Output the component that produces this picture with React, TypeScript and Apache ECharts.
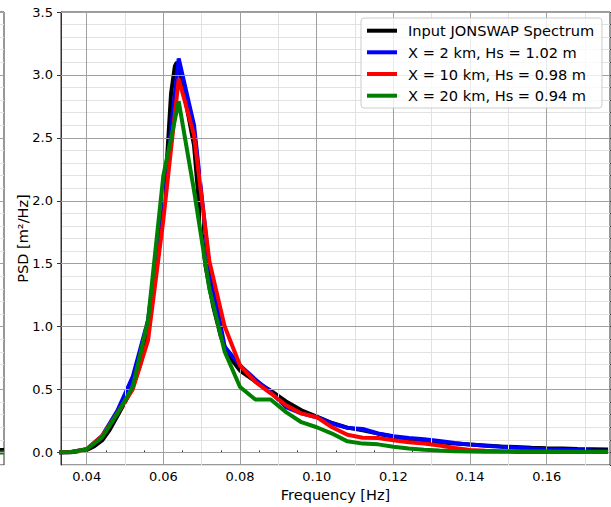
import React, { useEffect, useRef } from "react";
import * as echarts from "echarts";

const FONT = "DejaVu Sans";

// Frequencies of the simulated spectra (Hz)
const FREQ = [
  0.032, 0.036, 0.040, 0.044, 0.048, 0.052, 0.056, 0.060, 0.064, 0.068, 0.072, 0.076,
  0.080, 0.084, 0.088, 0.092, 0.096, 0.100, 0.104, 0.108, 0.112, 0.116, 0.120, 0.124,
  0.128, 0.132, 0.136, 0.140, 0.144, 0.148, 0.152, 0.156, 0.160, 0.164, 0.168, 0.172, 0.176,
];
const PSD_X2 = [
  0, 0.003, 0.025, 0.13, 0.33, 0.6, 1.05, 2.0, 3.13, 2.6, 1.47, 0.84,
  0.69, 0.58, 0.48, 0.36, 0.31, 0.28, 0.23, 0.195, 0.186, 0.15, 0.128, 0.114,
  0.105, 0.09, 0.075, 0.062, 0.052, 0.045, 0.038, 0.031, 0.026, 0.022, 0.019, 0.016, 0.014,
];
const PSD_X10 = [
  0, 0.003, 0.025, 0.13, 0.31, 0.5, 0.89, 1.85, 2.97, 2.52, 1.52, 1.0,
  0.69, 0.56, 0.47, 0.375, 0.31, 0.28, 0.2, 0.14, 0.117, 0.114, 0.096, 0.08,
  0.07, 0.055, 0.035, 0.02, 0.013, 0.01, 0.009, 0.008, 0.007, 0.006, 0.005, 0.004, 0.004,
];
const PSD_X20 = [
  0, 0.003, 0.025, 0.12, 0.31, 0.52, 1.05, 2.2, 2.79, 2.08, 1.3, 0.8,
  0.52, 0.42, 0.42, 0.32, 0.24, 0.2, 0.15, 0.088, 0.07, 0.064, 0.045, 0.032,
  0.022, 0.015, 0.01, 0.008, 0.006, 0.005, 0.004, 0.004, 0.003, 0.003, 0.003, 0.003, 0.003,
];

// Input JONSWAP spectrum (finer frequency resolution)
const JONSWAP_FREQ = [
  0.032, 0.036, 0.040, 0.042, 0.044, 0.046, 0.048, 0.050, 0.052, 0.054, 0.056, 0.058,
  0.060, 0.061, 0.062, 0.063, 0.0635, 0.064, 0.065, 0.066, 0.067, 0.068, 0.069, 0.070,
  0.071, 0.072, 0.073, 0.074, 0.075, 0.076, 0.078, 0.080, 0.084, 0.088, 0.092, 0.096,
  0.100, 0.104, 0.108, 0.112, 0.116, 0.120, 0.124, 0.128, 0.132, 0.136, 0.140, 0.144,
  0.148, 0.152, 0.156, 0.160, 0.164, 0.168, 0.172, 0.176,
];
const JONSWAP_PSD = [
  0, 0.002, 0.02, 0.05, 0.095, 0.18, 0.29, 0.4, 0.52, 0.7, 0.97, 1.5,
  2.0, 2.35, 2.85, 3.07, 3.1, 3.08, 2.92, 2.76, 2.6, 2.44, 2.08, 1.74,
  1.48, 1.32, 1.16, 1.04, 0.92, 0.84, 0.73, 0.65, 0.565, 0.49, 0.405, 0.335,
  0.285, 0.234, 0.197, 0.175, 0.149, 0.125, 0.105, 0.09, 0.08, 0.07, 0.062, 0.055,
  0.048, 0.043, 0.038, 0.034, 0.031, 0.028, 0.026, 0.024,
];

// Neighbouring (cropped) panel at the far left
const STRAY_X = [0, 1];
const STRAY_BLACK = [0.02, 0.02];
const STRAY_GREEN = [0.0, 0.0];

const SERIES_NAMES = [
  "Input JONSWAP Spectrum",
  "X = 2 km, Hs = 1.02 m",
  "X = 10 km, Hs = 0.98 m",
  "X = 20 km, Hs = 0.94 m",
];
const COLORS = ["#000000", "#0000ff", "#ff0000", "#008000"];

const X_MIN = 0.0333;
const X_MAX = 0.1765;
const Y_MIN = -0.1;
const Y_MAX = 3.5;
const X_MAJOR = [0.04, 0.06, 0.08, 0.1, 0.12, 0.14, 0.16];
const X_MINOR = [
  0.035, 0.045, 0.05, 0.055, 0.065, 0.07, 0.075, 0.085, 0.09, 0.095, 0.105, 0.11, 0.115,
  0.125, 0.13, 0.135, 0.145, 0.15, 0.155, 0.165, 0.17, 0.175,
];
const Y_MAJOR = [0, 0.5, 1.0, 1.5, 2.0, 2.5, 3.0, 3.5];

const zip = (xs: number[], ys: number[]) => xs.map((x, i) => [x, ys[i]]);

export default function App() {
  const ref = useRef<HTMLDivElement>(null);
  useEffect(() => {
    if (!ref.current) return;
    const chart = echarts.init(ref.current, null, { renderer: "svg" });
    const MAJOR = "#a0a0a0";
    const MINOR = "#e2e2e2";
    const gridMarks = {
      silent: true,
      symbol: ["none", "none"],
      label: { show: false },
      animation: false,
      lineStyle: { type: "solid", width: 1 },
      data: [
        ...X_MINOR.map((v) => ({ xAxis: v, lineStyle: { color: MINOR, type: "solid", width: 1 } })),
        ...X_MAJOR.map((v) => ({ xAxis: v, lineStyle: { color: MAJOR, type: "solid", width: 1 } })),
        ...Y_MAJOR.map((v) => ({ yAxis: v, lineStyle: { color: MAJOR, type: "solid", width: 1 } })),
      ],
    };
    const strayMarks = {
      silent: true,
      symbol: ["none", "none"],
      label: { show: false },
      animation: false,
      data: Y_MAJOR.map((v) => ({ yAxis: v, lineStyle: { color: MAJOR, type: "solid", width: 1 } })),
    };
    const legendRows = [30.7, 52.3, 74, 95.7];
    const option: any = {
      animation: false,
      backgroundColor: "#ffffff",
      textStyle: { fontFamily: FONT },
      grid: [
        {
          left: -300, width: 304, top: 12, bottom: 42, outerBoundsMode: "none", containLabel: false,
          show: true, borderColor: "#333333", borderWidth: 1, backgroundColor: "#ffffff",
        },
        {
          left: 61, right: 1, top: 12, bottom: 42, outerBoundsMode: "none", containLabel: false,
          show: true, borderColor: "#333333", borderWidth: 1, backgroundColor: "#ffffff",
        },
      ],
      xAxis: [
        {
          type: "value", gridIndex: 1, min: X_MIN, max: X_MAX,
          axisLine: { show: true, lineStyle: { color: "#333333" } },
          axisTick: { show: true, customValues: X_MAJOR, length: 4, lineStyle: { color: "#333333" } },
          axisLabel: {
            show: true, customValues: X_MAJOR, margin: 5,
            formatter: (v: number) => v.toFixed(2),
            fontSize: 13, color: "#000000", fontFamily: FONT,
          },
          splitLine: { show: false },
          name: "Frequency [Hz]", nameLocation: "middle", nameGap: 22,
          nameTextStyle: { fontSize: 14.5, color: "#000000", fontFamily: FONT },
        },
        {
          type: "value", gridIndex: 1, min: X_MIN, max: X_MAX,
          axisLine: { show: false },
          axisTick: { show: true, customValues: X_MINOR, length: 2, lineStyle: { color: "#333333" } },
          axisLabel: { show: false },
          splitLine: { show: false },
        },
        {
          type: "value", gridIndex: 0, min: 0, max: 1, show: false,
        },
      ],
      yAxis: [
        {
          type: "value", gridIndex: 1, min: Y_MIN, max: Y_MAX,
          axisLine: { show: true, lineStyle: { color: "#333333" } },
          axisTick: { show: true, customValues: Y_MAJOR, length: 4, lineStyle: { color: "#333333" } },
          axisLabel: {
            show: true, customValues: Y_MAJOR, margin: 8,
            formatter: (v: number) => v.toFixed(1),
            fontSize: 13, color: "#000000", fontFamily: FONT,
          },
          splitLine: { show: false },
          name: "PSD [m²/Hz]", nameLocation: "middle", nameGap: 31, nameRotate: 90,
          nameMoveOverlap: false,
          nameTextStyle: { fontSize: 14.5, color: "#000000", fontFamily: FONT },
        },
        {
          type: "value", gridIndex: 1, min: Y_MIN, max: Y_MAX, interval: 0.1,
          axisLine: { show: false },
          axisTick: { show: true, length: 2, lineStyle: { color: "#333333" } },
          axisLabel: { show: false },
          splitLine: { show: true, lineStyle: { color: MINOR, width: 1 } },
        },
        {
          type: "value", gridIndex: 0, min: Y_MIN, max: Y_MAX, interval: 0.1,
          axisLine: { show: false }, axisTick: { show: false }, axisLabel: { show: false },
          splitLine: { show: true, lineStyle: { color: MINOR, width: 1 } },
        },
      ],
      series: [
        {
          type: "line", xAxisIndex: 0, yAxisIndex: 0, data: [], z: 1,
          symbol: "none", markLine: gridMarks,
        },
        {
          type: "line", xAxisIndex: 2, yAxisIndex: 2, data: [], z: 1,
          symbol: "none", markLine: strayMarks,
        },
        {
          type: "line", xAxisIndex: 2, yAxisIndex: 2, z: 3, symbol: "none",
          data: zip(STRAY_X, STRAY_BLACK), lineStyle: { color: COLORS[0], width: 4 },
        },
        {
          type: "line", xAxisIndex: 2, yAxisIndex: 2, z: 4, symbol: "none",
          data: zip(STRAY_X, STRAY_GREEN), lineStyle: { color: COLORS[3], width: 4 },
        },
        {
          name: SERIES_NAMES[0], type: "line", xAxisIndex: 0, yAxisIndex: 0, z: 3,
          symbol: "none", clip: true, data: zip(JONSWAP_FREQ, JONSWAP_PSD),
          lineStyle: { color: COLORS[0], width: 4 },
        },
        {
          name: SERIES_NAMES[1], type: "line", xAxisIndex: 0, yAxisIndex: 0, z: 4,
          symbol: "none", clip: true, data: zip(FREQ, PSD_X2),
          lineStyle: { color: COLORS[1], width: 4 },
        },
        {
          name: SERIES_NAMES[2], type: "line", xAxisIndex: 0, yAxisIndex: 0, z: 5,
          symbol: "none", clip: true, data: zip(FREQ, PSD_X10),
          lineStyle: { color: COLORS[2], width: 4 },
        },
        {
          name: SERIES_NAMES[3], type: "line", xAxisIndex: 0, yAxisIndex: 0, z: 6,
          symbol: "none", clip: true, data: zip(FREQ, PSD_X20),
          lineStyle: { color: COLORS[3], width: 4 },
        },
      ],
      graphic: [
        {
          type: "rect", z: 100,
          shape: { x: 361, y: 18, width: 241, height: 90, r: 3 },
          style: { fill: "rgba(255,255,255,0.8)", stroke: "#cccccc", lineWidth: 1 },
        },
        ...SERIES_NAMES.flatMap((name, i) => [
          {
            type: "line", z: 101,
            shape: { x1: 367, y1: legendRows[i], x2: 397, y2: legendRows[i] },
            style: { stroke: COLORS[i], lineWidth: 4 },
          },
          {
            type: "text", z: 101, x: 408, y: legendRows[i],
            style: {
              text: name, fill: "#000000", fontSize: 14.6, fontFamily: FONT,
              verticalAlign: "middle", align: "left",
            },
          },
        ]),
      ],
    };
    chart.setOption(option);
    return () => chart.dispose();
  }, []);
  return (
    <div
      ref={ref}
      style={{ position: "fixed", left: 0, top: 0, width: 611, height: 507 }}
    />
  );
}
